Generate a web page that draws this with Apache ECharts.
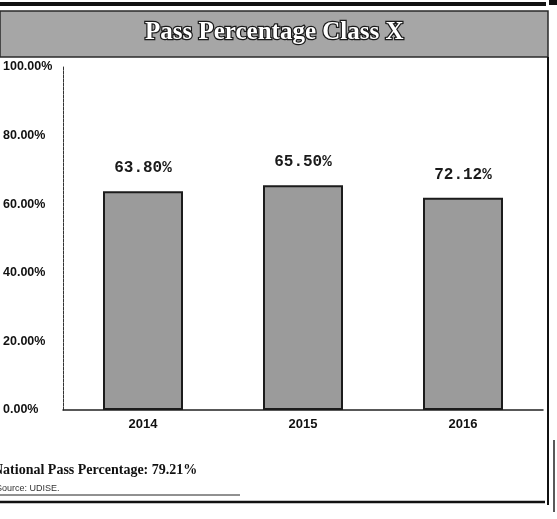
<!DOCTYPE html>
<html>
<head>
<meta charset="utf-8">
<title>Pass Percentage Class X</title>
<script src="https://cdn.jsdelivr.net/npm/echarts@6/dist/echarts.min.js"></script>
<style>
  html, body { margin: 0; padding: 0; background: #fff; }
  #chart { width: 557px; height: 519px; }
</style>
</head>
<body>
<div id="chart"></div>
<script>
// data
var years = ['2014', '2015', '2016']
// bar heights as drawn (the 2016 bar is drawn lower than its label says)
var barValues = [63.8, 65.5, 61.9]
// labels as printed above the bars
var barLabels = ['63.80%', '65.50%', '72.12%']
var yTicks = [0, 20, 40, 60, 80, 100]

var myChart = echarts.init(document.getElementById('chart'))

var option = {
  backgroundColor: '#fff',
  animation: false,
  title: {
    text: 'Pass Percentage Class X',
    left: 140,
    top: 15,
    textStyle: {
      color: '#fff',
      fontFamily: 'Liberation Serif',
      fontWeight: 'bold',
      fontSize: 25,
      textBorderColor: '#1a1a1a',
      textBorderWidth: 2.5
    }
  },
  grid: {
    left: 57,
    right: 14,
    top: 67,
    bottom: 109
  },
  xAxis: {
    type: 'category',
    data: years,
    axisTick: { show: false },
    axisLine: {
      lineStyle: { color: '#222', width: 1.5 }
    },
    axisLabel: {
      color: '#111',
      fontFamily: 'Liberation Sans',
      fontWeight: 'bold',
      fontSize: 13,
      margin: 8
    }
  },
  yAxis: {
    type: 'value',
    min: yTicks[0],
    max: yTicks[yTicks.length - 1],
    interval: 20,
    splitLine: { show: false },
    axisTick: { show: false },
    axisLine: {
      show: true,
      lineStyle: { color: '#333', width: 1, type: [3, 1] }
    },
    axisLabel: {
      color: '#111',
      fontFamily: 'Liberation Sans',
      fontWeight: 'bold',
      fontSize: 12.5,
      align: 'left',
      margin: 60,
      formatter: function (v) {
        return v.toFixed(2) + '%'
      }
    }
  },
  series: [
    {
      type: 'bar',
      data: barValues,
      barWidth: '50%',
      itemStyle: {
        color: '#9b9b9b',
        borderColor: '#1c1c1c',
        borderWidth: 2
      },
      label: {
        show: true,
        position: 'top',
        distance: 15,
        color: '#1a1a1a',
        fontFamily: 'Liberation Mono',
        fontWeight: 'bold',
        fontSize: 16,
        formatter: function (p) {
          return barLabels[p.dataIndex]
        }
      }
    }
  ],
  graphic: [
    // grey banner behind the title
    {
      type: 'rect',
      z: -1,
      shape: { x: 0, y: 11, width: 548, height: 46 },
      style: { fill: '#a6a6a6', stroke: '#2a2a2a', lineWidth: 1.5 }
    },
    // frame lines
    {
      type: 'rect',
      shape: { x: 0, y: 2, width: 546, height: 4 },
      style: { fill: '#111' }
    },
    {
      type: 'rect',
      shape: { x: 549, y: 0, width: 8, height: 5 },
      style: { fill: '#111' }
    },
    {
      type: 'line',
      shape: { x1: 548, y1: 57, x2: 548, y2: 505 },
      style: { stroke: '#111', lineWidth: 2 }
    },
    {
      type: 'line',
      shape: { x1: 554, y1: 440, x2: 554, y2: 512 },
      style: { stroke: '#222', lineWidth: 1.5 }
    },
    {
      type: 'line',
      shape: { x1: 0, y1: 502, x2: 545, y2: 502 },
      style: { stroke: '#111', lineWidth: 2.5 }
    },
    {
      type: 'line',
      shape: { x1: 0, y1: 495, x2: 240, y2: 495 },
      style: { stroke: '#222', lineWidth: 1 }
    },
    // notes under the chart
    {
      type: 'text',
      left: -7,
      top: 463,
      style: {
        text: 'National Pass Percentage: 79.21%',
        fill: '#111',
        fontFamily: 'Liberation Serif',
        fontWeight: 'bold',
        fontSize: 14
      }
    },
    {
      type: 'text',
      left: -4,
      top: 484,
      style: {
        text: 'Source: UDISE.',
        fill: '#333',
        fontFamily: 'Liberation Sans',
        fontSize: 9
      }
    }
  ]
}

myChart.setOption(option)
</script>
</body>
</html>
